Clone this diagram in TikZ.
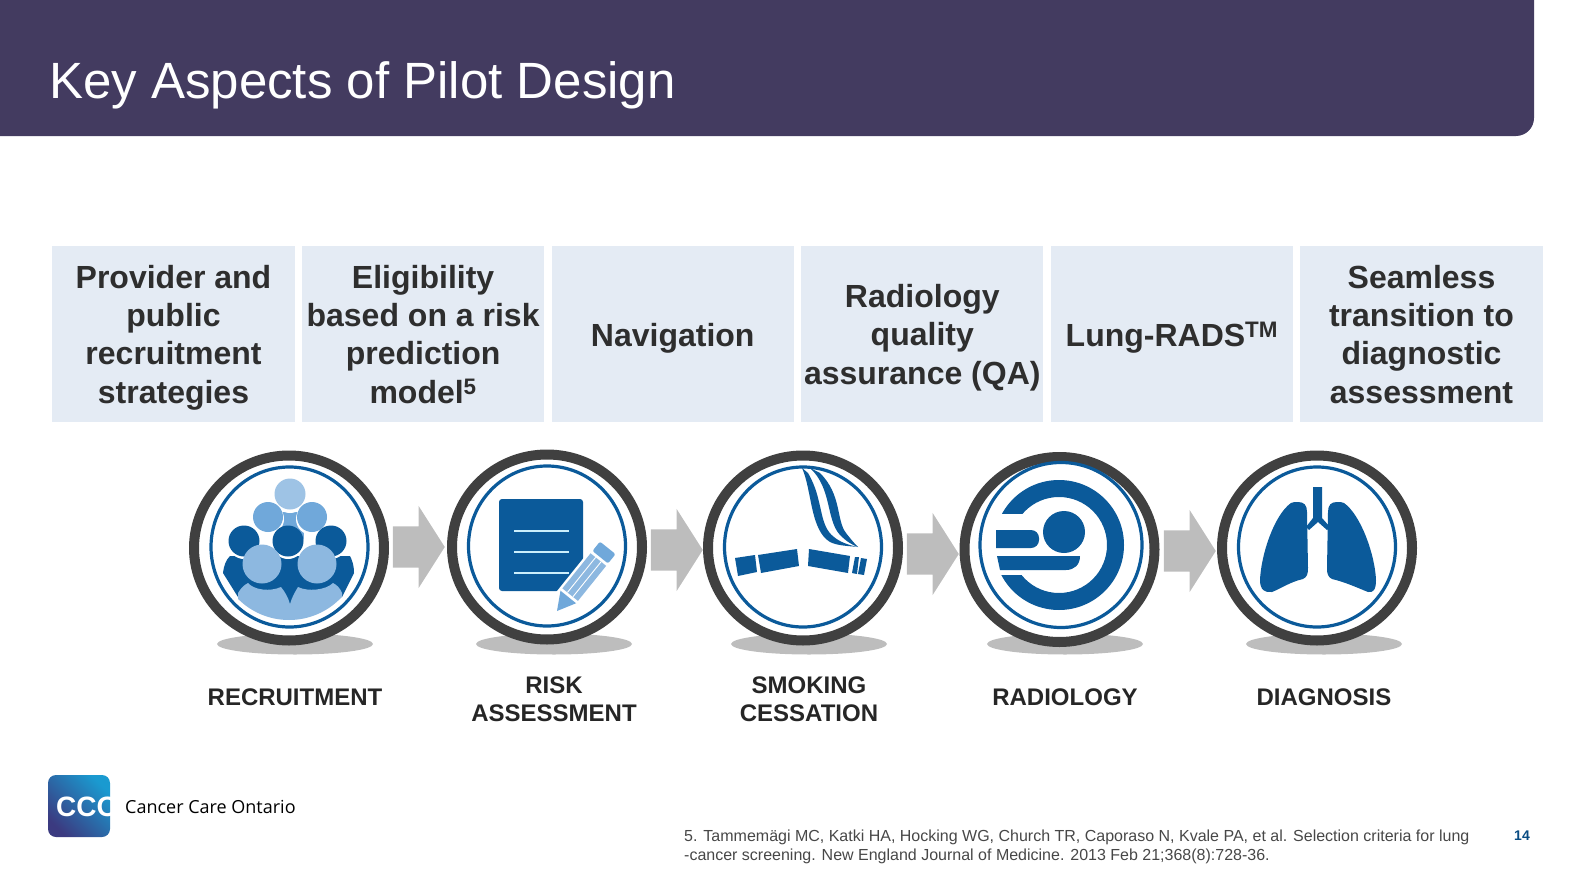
\documentclass[tikz,border=0pt]{standalone}
\usepackage{fontspec}
\setmainfont{Liberation Sans}
\newfontfamily\logofont{Open Sans}
\usetikzlibrary{positioning,shapes.geometric,shapes.arrows}
\definecolor{barpurple}{HTML}{433B60}
\definecolor{boxblue}{HTML}{E4EBF4}
\definecolor{ringdark}{HTML}{404040}
\definecolor{iconblue}{HTML}{0B5A9A}
\definecolor{iconmid}{HTML}{70A8DA}
\definecolor{iconpale}{HTML}{8DB8E0}
\definecolor{softgrey}{HTML}{BDBDBD}
\definecolor{logosky}{HTML}{1A9AD0}
\definecolor{logodeep}{HTML}{3B3A80}
\newcommand{\liftline}{\rule{0pt}{35pt}}

\begin{document}
\begin{tikzpicture}[
  x=1pt,y=-1pt,
  node distance=7pt and 6.9pt,
  goal/.style={fill=boxblue,minimum width=242.3pt,minimum height=176pt,inner sep=0pt,align=center,
    text=black!82,font=\fontsize{32}{38.4}\selectfont\bfseries,
    execute at begin node=\rule{0pt}{36pt},execute at end node=\strut},
  badge/.style={ellipse,draw=ringdark,fill=white,line width=10pt,minimum width=190pt,minimum height=185pt,inner sep=0pt},
  hoop/.style={ellipse,draw=iconblue,line width=3.2pt,minimum width=157pt,minimum height=160pt,inner sep=0pt},
  shadow/.style={ellipse,fill=softgrey,minimum width=156pt,minimum height=21pt,inner sep=0pt},
  push/.style={single arrow,fill=softgrey,anchor=tip,minimum height=52pt,inner xsep=0pt,inner ysep=20.5pt,
    single arrow head extend=20.5pt,single arrow tip angle=115},
  tag/.style={align=center,inner sep=0pt,text=black!85,font=\fontsize{24}{28}\selectfont\bfseries}
]
  \useasboundingbox (0,0) rectangle (1583,891);

  % title bar
  \fill[barpurple] (0,0) -- (1534,0) [rounded corners=18pt] -- (1534,136) [sharp corners] -- (0,136) -- cycle;
  \node[anchor=west,inner sep=0pt,text=white,font=\fontsize{51}{56}\selectfont] (title) at (49,85) {Key Aspects of Pilot Design};

  % top row
  \node[goal] (provider) at (173.5,334) {\liftline Provider and\\public\\recruitment\\strategies};
  \node[goal,right=of provider] (eligible) {\liftline Eligibility\\based on a risk\\prediction\\model\textsuperscript{5}};
  \node[goal,right=of eligible] (navigate) {Navigation};
  \node[goal,right=of navigate] (quality) {\liftline Radiology\\quality\\assurance (QA)};
  \node[goal,right=of quality] (lungrads) {Lung-RADS\textsuperscript{TM}};
  \node[goal,right=of lungrads] (seamless) {\liftline Seamless\\transition to\\diagnostic\\assessment};

  % badges
  \node[shadow] (shadowa) at (295,644) {};
  \node[shadow] (shadowb) at (554,644) {};
  \node[shadow] (shadowc) at (809,644) {};
  \node[shadow] (shadowd) at (1065,644) {};
  \node[shadow] (shadowe) at (1324,644) {};
  \node[badge] (recruit) at (289,548) {};
  \node[badge] (risk) at (547,547) {};
  \node[badge] (smoking) at (803,548) {};
  \node[badge] (radiology) at (1059.5,549.5) {};
  \node[badge] (diagnosis) at (1317,548) {};
  \node[hoop] (recruithoop) at (289.5,547) {};
  \node[hoop] (riskhoop) at (547,546) {};
  \node[hoop] (smokinghoop) at (803,547) {};
  \node[hoop,minimum width=162pt,minimum height=165pt] (radiologyhoop) at (1061,545) {};
  \node[hoop] (diagnosishoop) at (1317,547) {};

  \node[push] (pusha) at (445,547) {};
  \node[push] (pushb) at (703,550) {};
  \node[push] (pushc) at (959,554) {};
  \node[push] (pushd) at (1216,551) {};

  % people
  \fill[iconmid] (276,512) rectangle (304,545);
  \fill[white] (290,496) circle (17);
  \fill[iconpale!85!white] (290,494) circle (15.5);
  \fill[white] (268,519) circle (16) (312,519) circle (16);
  \fill[iconmid] (268,517) circle (15) (312,517) circle (15);
  \fill[iconblue] (223,573) .. controls (224,565) and (226,560) .. (230,556) -- (350,556)
    .. controls (352,560) and (354,565) .. (354,573) -- (342,597) -- (290,605) -- (238,597) -- cycle;
  \fill[white] (244,543) circle (16) (288,543) circle (16) (331,543) circle (16);
  \fill[iconblue] (244,541) circle (15.5) (288,541) circle (15.5) (331,541) circle (15.5);
  \fill[iconpale] (262,564) circle (19.5) (317,564) circle (19.5);
  \begin{scope}
    \clip (289,548) circle (72);
    \fill[iconpale] (238,593) .. controls (241,588) and (244,585) .. (248,583)
      .. controls (254,590) and (270,592) .. (281,587) .. controls (285,592) and (288,597) .. (290,604)
      .. controls (292,597) and (295,592) .. (298,587) .. controls (308,592) and (326,590) .. (333,583)
      .. controls (337,585) and (340,588) .. (342,593) -- (342,630) -- (238,630) -- cycle;
  \end{scope}

  % document and pencil
  \fill[iconblue,rounded corners=3pt] (499,499) rectangle (583,591);
  \draw[white!80!cyan,line width=1.1pt] (514,531) -- (569,531) (514,552) -- (569,552) (514,573) -- (569,573);
  \begin{scope}[shift={(557,611)},rotate=51.2]
    \fill[white] (-3,-12.5) -- (-3,12.5) -- (85,12.5) -- (85,-12.5) -- cycle;
    \fill[iconmid] (0,0) -- (18,-10) -- (18,10) -- cycle;
    \fill[iconpale] (21,-10) rectangle (66,10);
    \draw[white,line width=.9pt] (21,-3.5) -- (66,-3.5) (21,3.5) -- (66,3.5);
    \fill[iconmid,rounded corners=2pt] (69,-10) rectangle (81,10);
  \end{scope}

  % cigarette and smoke
  \fill[iconblue] (735,558) -- (755,555) -- (757,572) -- (738,576) -- cycle;
  \fill[iconblue] (758,555) -- (797,549) -- (799,566) -- (761,573) -- cycle;
  \fill[iconblue] (809,549) -- (850,556) -- (848,573) -- (808,566) -- cycle;
  \fill[iconblue] (855,557) -- (859,557) -- (857,574) -- (852,573) -- cycle;
  \fill[iconblue] (861,558) -- (867,559) -- (864,575) -- (858,574) -- cycle;
  \fill[iconblue] (802,468) .. controls (812,490) and (810,530) .. (830,542) .. controls (838,546) and (850,546) .. (858,547)
    .. controls (848,545) and (840,542) .. (834,537) .. controls (818,525) and (824,500) .. (808,473) -- cycle;
  \fill[iconblue] (810,468) .. controls (832,488) and (826,520) .. (840,535) .. controls (846,541) and (852,545) .. (858,547)
    .. controls (853,542) and (850,538) .. (846,533) .. controls (836,520) and (842,495) .. (820,473) -- cycle;

  % scanner
  \fill[iconblue,even odd rule] (1059,545) circle (65) (1059,545) circle (48);
  \fill[white] (992,514) rectangle (1028,575);
  \fill[iconblue] (1064,532) circle (21);
  \fill[iconblue] (996,530) -- (1030,530) [rounded corners=8pt] -- (1039,530) -- (1039,548) [sharp corners] -- (996,548) -- cycle;
  \fill[iconblue] (997,556) -- (1080,556) .. controls (1080,565) and (1074,570) .. (1066,570) -- (1000,570) -- cycle;

  % lungs
  \fill[iconblue] (1313,487) -- (1322,487) -- (1322,518) -- (1330,527) -- (1327,530) -- (1318,522) -- (1309,530) -- (1306,527) -- (1313,518) -- cycle;
  \fill[iconblue] (1298,502) .. controls (1304,502) and (1307,505) .. (1307,512) -- (1308,568)
    .. controls (1308,574) and (1307,577) .. (1303,579) .. controls (1290,582) and (1282,588) .. (1272,592)
    .. controls (1265,593) and (1260,590) .. (1260,580) .. controls (1261,555) and (1274,515) .. (1291,503)
    .. controls (1293,502) and (1295,502) .. (1298,502) -- cycle;
  \fill[iconblue] (1337,502) .. controls (1331,502) and (1328,505) .. (1328,512) -- (1327,568)
    .. controls (1327,574) and (1328,577) .. (1332,579) .. controls (1345,582) and (1358,588) .. (1368,592)
    .. controls (1373,593) and (1376,590) .. (1376,580) .. controls (1375,555) and (1361,515) .. (1344,503)
    .. controls (1342,502) and (1340,502) .. (1337,502) -- cycle;

  % labels
  \node[tag] (recruittag) at (295,697) {RECRUITMENT};
  \node[tag] (risktag) at (554,699) {RISK\\ASSESSMENT};
  \node[tag] (smokingtag) at (809,699) {SMOKING\\CESSATION};
  \node[tag] (radiologytag) at (1065,697) {RADIOLOGY};
  \node[tag] (diagnosistag) at (1324,697) {DIAGNOSIS};

  % logo
  \path[rounded corners=8pt,shading=axis,top color=logosky,middle color=iconblue,bottom color=logodeep,shading angle=-45] (48,775) rectangle (110,837);
  \begin{scope}
    \clip (48,775) rectangle (110,837);
    \node[anchor=west,inner sep=0pt,text=white,font=\fontsize{28}{30}\selectfont\bfseries] (ccomark) at (56,807) {CCO};
  \end{scope}
  \node[anchor=west,inner sep=0pt,font=\logofont\fontsize{18}{22}\selectfont] (cconame) at (125,806.5) {Cancer Care Ontario};

  % footer
  \node[anchor=west,align=left,inner sep=0pt,text=black!72,font=\fontsize{16}{19}\selectfont] (source) at (684,846.5)
    {5. Tammemägi MC, Katki HA, Hocking WG, Church TR, Caporaso N, Kvale PA, et al. Selection criteria for lung\\-cancer screening. New England Journal of Medicine. 2013 Feb 21;368(8):728-36.};
  \node[anchor=center,inner sep=0pt,text=iconblue!85!black,font=\fontsize{14}{16}\selectfont\bfseries] (pageno) at (1522,836) {14};
\end{tikzpicture}
\end{document}
